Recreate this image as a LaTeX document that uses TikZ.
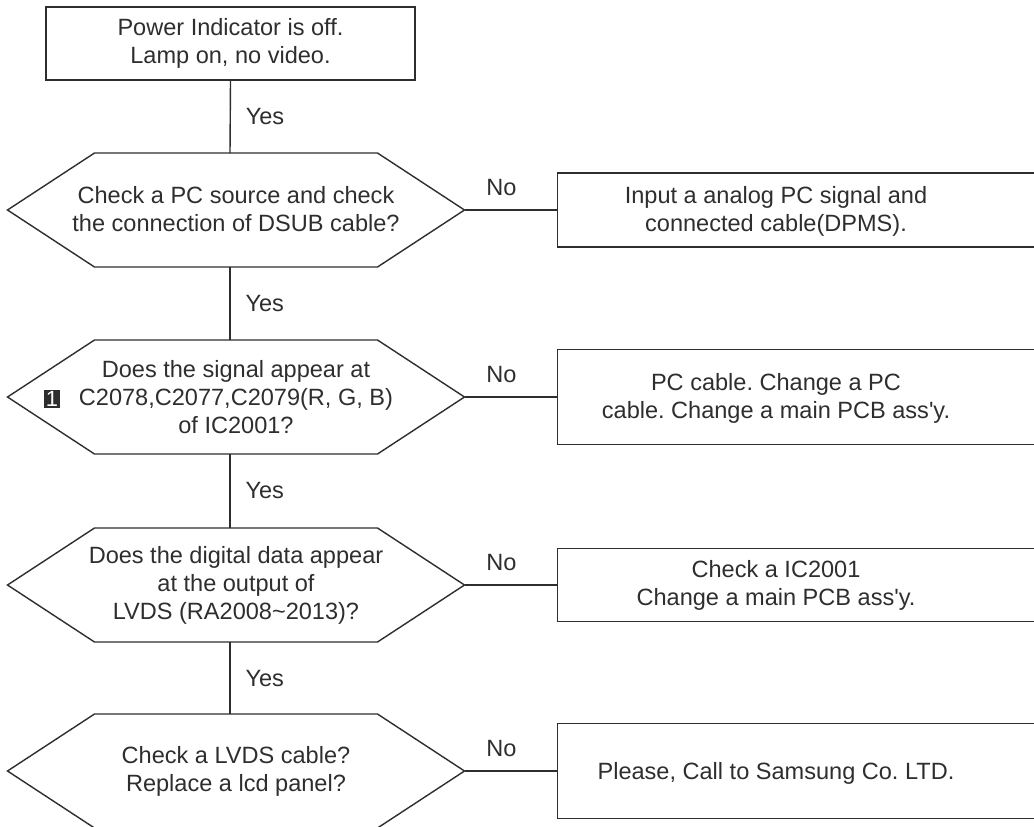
\documentclass[tikz,border=0pt]{standalone}
\usepackage{fontspec}
\setmainfont{Liberation Sans}
\usetikzlibrary{positioning, calc}
\definecolor{ink}{HTML}{2E2E2E}
\frenchspacing

\begin{document}
\begin{tikzpicture}[x=0.02cm, y=-0.02cm, color=ink, line width=0.8pt,
    every node/.style={font=\fontsize{13.4}{15.9}\selectfont, align=center},
    startbox/.style={rectangle, draw, minimum width=7.38cm, minimum height=1.46cm},
    hexcore/.style={rectangle, inner sep=0pt},
    fixbox/.style={rectangle, draw, minimum width=9.76cm, anchor=west}]
    \useasboundingbox (0,0) rectangle (1034,826);
    \clip (0,0) rectangle (1034,826);

    \node[startbox] (start) at (230.5,43.5) {Power Indicator is off.\\Lamp on, no video.};

    % decisions
    \node[hexcore] (h1) at (236,209) {Check a PC source and check\\the connection of DSUB cable?};
    \node[hexcore] (h2) at (236,397) {Does the signal appear at\\C2078,C2077,C2079(R, G, B)\\of IC2001?};
    \node[hexcore] (h3) at (236,585) {Does the digital data appear\\at the output of\\LVDS (RA2008\textasciitilde2013)?};
    \node[hexcore] (h4) at (236,771) {Check a LVDS cable?\\Replace a lcd panel?};
    \node[fill=ink, text=white, inner sep=0pt, minimum width=0.34cm, minimum height=0.36cm,
        font=\fontsize{12.5}{12.5}\selectfont] (m1) at (52,399) {1};

    \foreach \y/\h in {210/h1,397/h2,585/h3,771/h4} {
        \coordinate (\h-tip) at (464.5,\y);
        \draw (94.5,\y-57) -- (377.5,\y-57) -- (\h-tip) -- (377.5,\y+57)
            -- (94.5,\y+57) -- (7.5,\y) -- cycle;
        \coordinate (\h-top) at (230,\y-57);
        \coordinate (\h-bot) at (230,\y+57);
    }

    % fixes
    \node[fixbox, minimum height=1.48cm] (r1) at (557,210) {};
    \node[fixbox, minimum height=1.90cm] (r2) at (557,397) {};
    \node[fixbox, minimum height=1.46cm] (r3) at (557,585) {};
    \node[fixbox, minimum height=1.90cm] (r4) at (557,771) {};
    \node (r1txt) at (776,211) {Input a analog PC signal and\\connected cable(DPMS).};
    \node (r2txt) at (776,398.5) {PC cable. Change a PC\\cable. Change a main PCB ass\textquotesingle y.};
    \node (r3txt) at (776,585) {Check a IC2001\\Change a main PCB ass\textquotesingle y.};
    \node (r4txt) at (776,773) {Please, Call to Samsung Co. LTD.};

    \draw (start.south) -- (h1-top) node[midway, right=0.18cm] {Yes};
    \foreach \a/\b in {h1/h2,h2/h3,h3/h4}
        \draw (\a-bot) -- (\b-top) node[midway, right=0.18cm] {Yes};

    \foreach \i in {1,...,4}
        \draw (h\i-tip) -- (r\i.west) node[pos=0.4, above=0.16cm] {No};
\end{tikzpicture}
\end{document}
